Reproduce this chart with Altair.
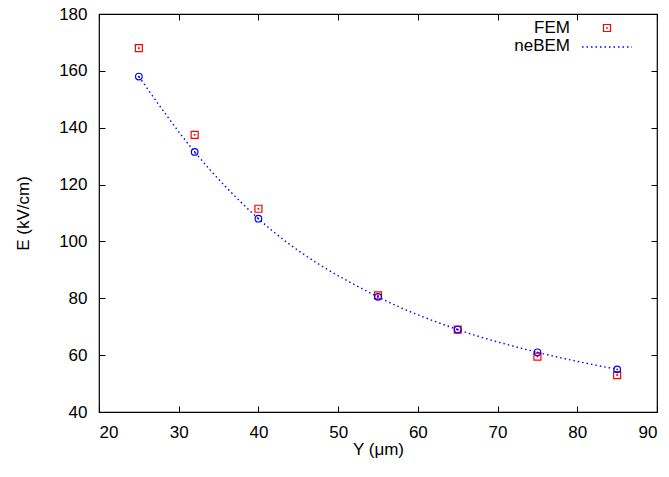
import altair as alt
import pandas as pd

# ---- data ----
y_um = [25, 32, 40, 55, 65, 75, 85]
fem = [168, 137.5, 111.5, 81, 69, 59.5, 53]
nebem = [158, 131.5, 108, 80.5, 69, 61, 55]
series_names = ["FEM", "neBEM"]
x_ticks = [20, 30, 40, 50, 60, 70, 80, 90]
y_ticks = [40, 60, 80, 100, 120, 140, 160, 180]

df = pd.DataFrame({"Y": y_um, "FEM": fem, "neBEM": nebem})

W, H = 558, 398
FONT = "Liberation Sans"
FS = 17
RED = "#ff0000"
BLUE = "#0000ff"

xs = alt.Scale(domain=[20, 90], nice=False, zero=False)
ys = alt.Scale(domain=[40, 180], nice=False, zero=False)

tick_only = dict(labels=False, domain=False, grid=False, title=None, ticks=True,
                 tickSize=6, tickColor="black", tickWidth=1)

# main labelled axes (no ticks; ticks drawn inward by the mirror axes)
x_main = alt.Axis(values=x_ticks, orient="bottom", title="Y (μm)", ticks=False,
                  domain=False, grid=False, labelPadding=12, labelFontSize=FS,
                  labelFont=FONT, labelColor="black", titleFont=FONT,
                  titleFontSize=FS, titleFontWeight="normal", titleColor="black",
                  titleX=W / 2, titleY=42, titleBaseline="alphabetic")
y_main = alt.Axis(values=y_ticks, orient="left", title="E (kV/cm)", ticks=False,
                  domain=False, grid=False, labelPadding=12, labelFontSize=FS,
                  labelFont=FONT, labelColor="black", titleFont=FONT,
                  titleFontSize=FS, titleFontWeight="normal", titleColor="black",
                  titleX=-71, titleY=H / 2, titleAngle=270,
                  titleBaseline="alphabetic", titleAlign="center")

# inward ticks on bottom (top-oriented axis moved to the bottom edge)
x_in_bottom = alt.Axis(values=x_ticks, orient="top", offset=-H, **tick_only)
# inward ticks on top (bottom-oriented axis moved to the top edge)
x_in_top = alt.Axis(values=x_ticks, orient="bottom", offset=-H, **tick_only)
# inward ticks on left (right-oriented axis moved to the left edge)
y_in_left = alt.Axis(values=y_ticks, orient="right", offset=-W, **tick_only)
# inward ticks on right (left-oriented axis moved to the right edge)
y_in_right = alt.Axis(values=y_ticks, orient="left", offset=-W, **tick_only)

base = alt.Chart(df)

fem_pts = base.mark_point(shape="square", size=49, strokeWidth=1.2, color=RED,
                          filled=False, opacity=1).encode(
    x=alt.X("Y:Q", scale=xs, axis=x_main),
    y=alt.Y("FEM:Q", scale=ys, axis=y_main),
)

neb_pts = base.mark_point(shape="circle", size=44, strokeWidth=1.2, color=BLUE,
                          filled=False, opacity=1).encode(
    x=alt.X("Y:Q", scale=xs, axis=x_in_bottom),
    y=alt.Y("neBEM:Q", scale=ys, axis=y_in_left),
)

neb_line = base.mark_line(color=BLUE, strokeWidth=1.4, strokeDash=[1.5, 3],
                          interpolate="monotone").encode(
    x=alt.X("Y:Q", scale=xs, axis=x_in_top),
    y=alt.Y("neBEM:Q", scale=ys, axis=y_in_right),
)

fem_dot = base.mark_point(shape="square", size=3, filled=True, color=RED,
                          opacity=1).encode(
    x=alt.X("Y:Q", scale=xs, axis=None),
    y=alt.Y("FEM:Q", scale=ys, axis=None),
)
neb_dot = base.mark_point(shape="circle", size=3, filled=True, color=BLUE,
                          opacity=1).encode(
    x=alt.X("Y:Q", scale=xs, axis=None),
    y=alt.Y("neBEM:Q", scale=ys, axis=None),
)

# ---- legend (drawn inside the plot, top right) ----
leg_fem = alt.Chart(pd.DataFrame({"name": [series_names[0]]})).mark_text(
    align="right", baseline="middle", fontSize=FS, font=FONT, color="black"
).encode(text="name:N", x=alt.value(471), y=alt.value(14))
leg_neb = alt.Chart(pd.DataFrame({"name": [series_names[1]]})).mark_text(
    align="right", baseline="middle", fontSize=FS, font=FONT, color="black"
).encode(text="name:N", x=alt.value(471), y=alt.value(32))
leg_sq = alt.Chart(pd.DataFrame({"name": [series_names[0]]})).mark_point(
    shape="square", size=49, strokeWidth=1.2, color=RED, filled=False, opacity=1
).encode(x=alt.value(508), y=alt.value(14))
leg_sq_dot = alt.Chart(pd.DataFrame({"name": [series_names[0]]})).mark_point(
    shape="square", size=3, filled=True, color=RED, opacity=1
).encode(x=alt.value(508), y=alt.value(14))
leg_line = alt.Chart(pd.DataFrame({"name": [series_names[1]]})).mark_rule(
    color=BLUE, strokeWidth=1.4, strokeDash=[1.5, 3]
).encode(x=alt.value(483), x2=alt.value(533), y=alt.value(33))

chart = alt.layer(
    neb_line, fem_pts, neb_pts, fem_dot, neb_dot,
    leg_fem, leg_neb, leg_sq, leg_sq_dot, leg_line,
).resolve_axis(
    x="independent", y="independent"
).properties(
    width=W, height=H,
    autosize=alt.AutoSizeParams(type="none"),
    padding={"left": 99, "top": 14, "right": 12, "bottom": 65},
    background="white",
).configure_view(
    stroke="black", strokeWidth=1.2
)

chart.save("out.html", embed_options={"renderer": "svg", "actions": False})
